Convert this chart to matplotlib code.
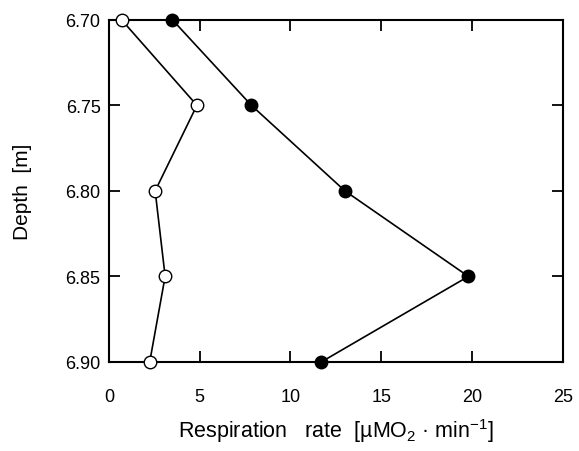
import matplotlib
matplotlib.use("Agg")
import matplotlib.pyplot as plt

plt.rcParams['font.family'] = ['Liberation Sans', 'DejaVu Sans']
plt.rcParams['mathtext.default'] = 'regular'

depth = [6.70, 6.75, 6.80, 6.85, 6.90]
rate_filled = [3.5, 7.85, 13.0, 19.8, 11.7]
rate_open = [0.7, 4.85, 2.55, 3.1, 2.25]

xticks = [0, 5, 10, 15, 20, 25]
yticks = [6.70, 6.75, 6.80, 6.85, 6.90]
yticklabels = ['6.70', '6.75', '6.80', '6.85', '6.90']

fig = plt.figure(figsize=(5.79, 4.52), dpi=100)
ax = fig.add_axes([0.188, 0.197, 0.784, 0.757])

ax.plot(rate_open, depth, color='black', lw=1.2, marker='o', ms=9,
        mfc='white', mec='black', mew=1.0, clip_on=False, zorder=3)
ax.plot(rate_filled, depth, color='black', lw=1.2, marker='o', ms=9,
        mfc='black', mec='black', clip_on=False, zorder=3)

ax.set_xlim(0, 25)
ax.set_ylim(6.90, 6.70)
ax.set_xticks(xticks)
ax.set_yticks(yticks)
ax.set_yticklabels(yticklabels)
ax.tick_params(direction='in', length=8, width=1.3, top=True, right=True,
               labelsize=13)
ax.tick_params(axis='x', pad=19)
ax.tick_params(axis='y', pad=6)
for s in ax.spines.values():
    s.set_linewidth(1.5)

ax.set_xlabel('Respiration   rate  [µMO$_2$ · min$^{-1}$]', fontsize=15.5, labelpad=8)
ax.set_ylabel('Depth  [m]', fontsize=15, labelpad=24)

fig.savefig('out.png', dpi=100)
